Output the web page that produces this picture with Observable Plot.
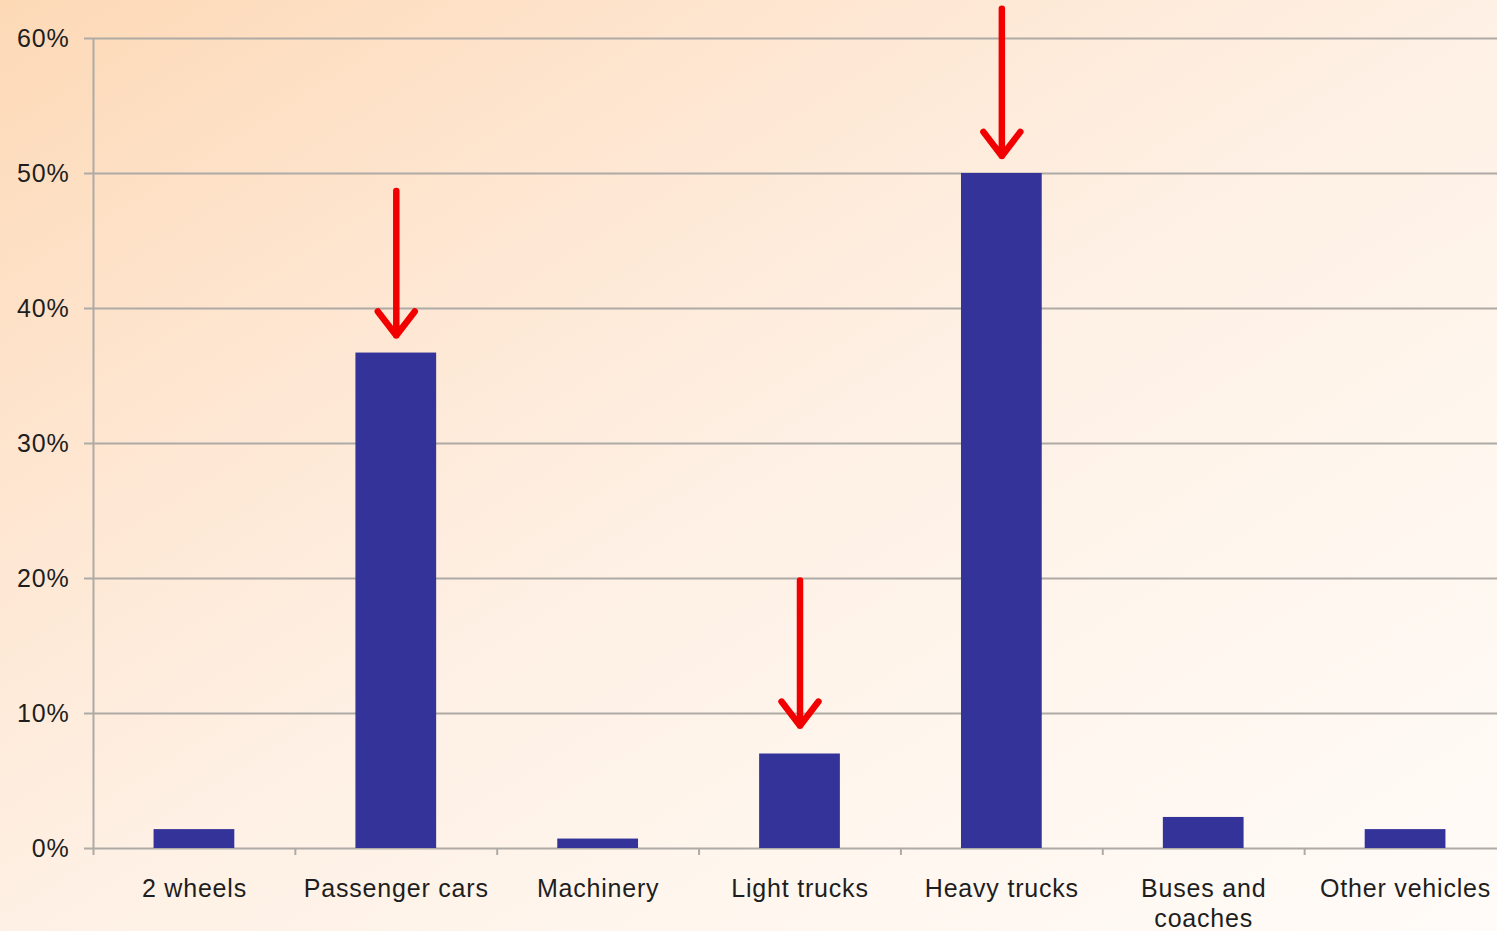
<!DOCTYPE html>
<html>
<head>
<meta charset="utf-8">
<script src="https://cdn.jsdelivr.net/npm/d3@7"></script>
<script src="https://cdn.jsdelivr.net/npm/@observablehq/plot@0.6"></script>
<style>
  html, body { margin: 0; padding: 0; }
  body {
    width: 1497px; height: 931px; overflow: hidden;
    background: linear-gradient(to bottom right, #fdd9b6 0%, #fee5cf 25%, #fef0e4 50%, #fff7ef 75%, #fffbf8 100%);
  }
</style>
</head>
<body>
<div id="chart"></div>
<script>
// Share of vehicles by category
const categories = ["2 wheels", "Passenger cars", "Machinery", "Light trucks", "Heavy trucks", "Buses and coaches", "Other vehicles"];
const shares = [0.014, 0.367, 0.007, 0.070, 0.500, 0.023, 0.014];
const categoryLabels = ["2 wheels", "Passenger cars", "Machinery", "Light trucks", "Heavy trucks", "Buses and\ncoaches", "Other vehicles"];
const yTicks = [0, 0.1, 0.2, 0.3, 0.4, 0.5, 0.6];

// Highlight arrows pointing down at selected bars
const arrowCats = ["Passenger cars", "Light trucks", "Heavy trucks"];
const arrowFrom = [0.487, 0.1985, 0.622];
const arrowTo = [0.380, 0.091, 0.513];

const bars = categories.map((c, i) => ({category: c, share: shares[i]}));
const arrows = arrowCats.map((c, i) => ({category: c, from: arrowFrom[i], to: arrowTo[i]}));

const width = 1497, height = 931;
const xRange = [93, 1506];
const step = (xRange[1] - xRange[0]) / categories.length;
const gridColor = "#aeaaa6";
const font = "'Liberation Sans', Arial, sans-serif";

const chart = Plot.plot({
  width, height,
  marginLeft: 93, marginRight: 0, marginTop: 38, marginBottom: 83,
  style: {background: "transparent", fontFamily: font, color: "#1e1e1e"},
  x: {domain: categories, range: xRange, paddingInner: 0.6, paddingOuter: 0.3, round: false},
  y: {domain: [0, 0.6]},
  marks: [
    Plot.gridY(yTicks, {stroke: gridColor, strokeOpacity: 1, strokeWidth: 2}),
    // left axis line
    Plot.ruleX([categories[0]], {x: d => d, dx: -step / 2, y1: 0.6, y2: 0, insetBottom: -7, stroke: gridColor, strokeWidth: 2}),
    // category separator ticks below the baseline
    Plot.ruleX(categories.slice(1), {x: d => d, dx: -step / 2, y1: 0, y2: 0, insetBottom: -7, stroke: gridColor, strokeWidth: 2}),
    Plot.axisY({
      ticks: yTicks, tickSize: 9, tickPadding: 15, stroke: gridColor, strokeWidth: 2,
      tickFormat: d => Math.round(d * 100) + "%", fontSize: 25, label: null
    }),
    Plot.axisX({
      tickSize: 0, tickPadding: 27, fontSize: 25, label: null, lineHeight: 1.2,
      tickFormat: d => categoryLabels[categories.indexOf(d)]
    }),
    Plot.barY(bars, {x: "category", y: "share", fill: "#333399", inset: 0}),
    Plot.arrow(arrows, {
      x: "category", y1: "from", y2: "to",
      stroke: "#f20000", strokeWidth: 6.5, headLength: 7, headAngle: 75
    })
  ]
});

chart.querySelectorAll("text").forEach(t => t.style.letterSpacing = "0.8px");
document.getElementById("chart").appendChild(chart);
</script>
</body>
</html>
